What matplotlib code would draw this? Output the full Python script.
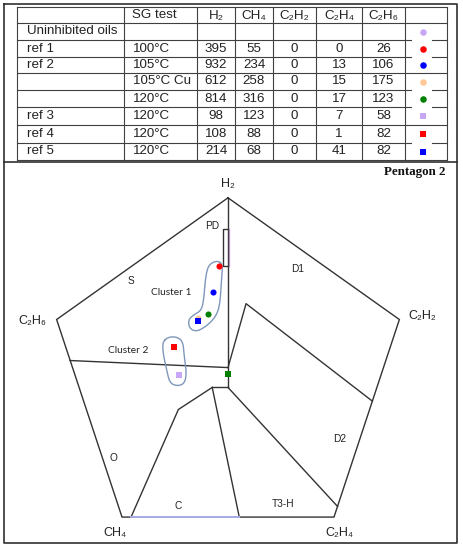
import matplotlib
matplotlib.use('Agg')
import matplotlib.pyplot as plt
import numpy as np

plt.rcParams['font.family'] = ['Liberation Sans', 'DejaVu Sans']

# ---- table data ----
row_names = ['Uninhibited oils', 'ref 1', 'ref 2', '', '', 'ref 3', 'ref 4', 'ref 5']
sg_test = ['', '100°C', '105°C', '105°C Cu', '120°C', '120°C', '120°C', '120°C']
gas_heads = ['H₂', 'CH₄', 'C₂H₂', 'C₂H₄', 'C₂H₆']
h2 = [395, 932, 612, 814, 98, 108, 214]
ch4 = [55, 234, 258, 316, 123, 88, 68]
c2h2 = [0, 0, 0, 0, 0, 0, 0]
c2h4 = [0, 13, 15, 17, 7, 1, 41]
c2h6 = [26, 106, 175, 123, 58, 82, 82]

# extra point sitting at the pentagon centre (green square)
extra_x = [0.0]
extra_y = [0.0]

# marker style for each table row
row_colors = ['#c8a6f8', '#ff0000', '#0000ff', '#ffc896', '#008000', '#c8a6f8', '#ff0000', '#0000ff']
row_marks = ['o', 'o', 'o', 'o', 'o', 's', 's', 's']

# ---- pentagon 2 geometry (Duval units) ----
pent_x = [0, -38, -23.5, 23.5, 38, 0]
pent_y = [40, 12.4, -32.4, -32.4, 12.4, 40]
zone_lines = [
    [(0, 40), (0, -3)],
    [(-35, 3.1), (0, 1.5)],
    [(0, 1.5), (4, 16), (32, -6.1)],
    [(0, -3), (24.3, -30)],
    [(0, -3), (-3.5, -3)],
    [(-3.5, -3), (2.5, -32.4)],
    [(-3.5, -3), (-11, -8), (-21.5, -32.4)],
    [(0, 24.5), (-1, 24.5), (-1, 33), (0, 33)],
]
vert_labels = ['H₂', 'C₂H₆', 'C₂H₂', 'CH₄', 'C₂H₄']
vert_lx = [0, -43.5, 43, -25, 24.6]
vert_ly = [43.1, 12.1, 13.2, -36.0, -36.0]
zone_names = ['S', 'D1', 'PD', 'O', 'C', 'T3-H', 'D2']
zone_lx = [-21.5, 15.5, -3.5, -25.3, -11.1, 12.2, 24.8]
zone_ly = [21.1, 23.9, 33.6, -19.0, -29.9, -29.4, -14.7]

cluster1 = [(-2.15, 25.7), (-1.18, 24.8), (-1.44, 21.4), (-1.77, 16.1), (-2.5, 13.4),
            (-4.37, 11.2), (-6.94, 9.6), (-8.58, 10.4), (-8.8, 12.3), (-7.69, 13.4),
            (-5.83, 14.5), (-5.32, 17.5), (-5.1, 20.7), (-4.59, 24.1), (-3.61, 25.3)]
cluster2 = [(-14.5, 7.3), (-13.3, 8.4), (-11.5, 8.5), (-10.0, 7.5), (-9.7, 4.0),
            (-9.2, 0.3), (-9.6, -2.0), (-11.0, -2.7), (-12.9, -2.1), (-13.6, 1.0),
            (-14.4, 4.7)]


def duval_xy(h, e6, m, e4, a2):
    # centroid of the polygon built from the relative gas percentages
    ang = np.radians([90, 162, 234, 306, 18])
    v = np.array([h, e6, m, e4, a2], float)
    p = 100 * v / v.sum()
    x = p * np.cos(ang)
    y = p * np.sin(ang)
    x1, y1 = np.roll(x, -1), np.roll(y, -1)
    cr = x * y1 - x1 * y
    a = cr.sum() / 2
    return ((x + x1) * cr).sum() / (6 * a), ((y + y1) * cr).sum() / (6 * a)


def smooth(pts, n=3):
    p = np.array(pts, float)
    for _ in range(n):
        q = np.roll(p, -1, axis=0)
        new = np.empty((2 * len(p), 2))
        new[0::2] = 0.75 * p + 0.25 * q
        new[1::2] = 0.25 * p + 0.75 * q
        p = new
    return np.vstack([p, p[:1]])


fig = plt.figure(figsize=(4.63, 5.50), dpi=100)

# ---- table (pixel coords) ----
ax = fig.add_axes([0, 0, 1, 1])
ax.set_xlim(0, 463)
ax.set_ylim(550, 0)
ax.axis('off')

frame_c = '#303030'
grid_c = '#404040'
ax.plot([4, 457, 457, 4, 4], [4, 4, 543, 543, 4], color=frame_c, lw=1.2)
ax.plot([4, 457], [162, 162], color=frame_c, lw=1.2)

col_x = [17, 124, 197, 235, 273, 316, 362, 405, 447]
row_y = [7, 23, 40, 57, 73, 90, 107, 125, 143, 160]
for x in col_x:
    ax.plot([x, x], [row_y[0], row_y[-1]], color=grid_c, lw=0.8)
full_rows = [7, 23, 73, 125, 160]
for y in row_y:
    if y in full_rows:
        ax.plot([col_x[0], col_x[-1]], [y, y], color=grid_c, lw=0.8)
    else:
        ax.plot([col_x[0], 411], [y, y], color=grid_c, lw=0.8)
        ax.plot([432, col_x[-1]], [y, y], color=grid_c, lw=0.8)

txt_c = '#222222'
fs = 9.6
hy = (row_y[0] + row_y[1]) / 2
ax.text(132, hy, 'SG test', fontsize=fs, color=txt_c, ha='left', va='center')
for i, g in enumerate(gas_heads):
    ax.text((col_x[i + 2] + col_x[i + 3]) / 2, hy + 0.5, g, fontsize=fs, color=txt_c,
            ha='center', va='center')

values = [h2, ch4, c2h2, c2h4, c2h6]
for r in range(len(row_names)):
    cy = (row_y[r + 1] + row_y[r + 2]) / 2
    ax.text(27, cy, row_names[r], fontsize=fs, color=txt_c, ha='left', va='center')
    ax.text(133, cy, sg_test[r], fontsize=fs, color=txt_c, ha='left', va='center')
    if r > 0:
        for i, vals in enumerate(values):
            ax.text((col_x[i + 2] + col_x[i + 3]) / 2, cy, str(vals[r - 1]), fontsize=fs,
                    color=txt_c, ha='center', va='center')
    ms = 4.7 if row_marks[r] == 'o' else 5.0
    ax.plot(423, cy, marker=row_marks[r], color=row_colors[r], ms=ms, mew=0, ls='none')

ax.text(445, 172, 'Pentagon 2', fontsize=9.3, fontweight='bold', family='Liberation Serif',
        color='#111111', ha='right', va='center')

# ---- pentagon (Duval units) ----
ox, oy, sx, sy = 228, 374.2, 4.51, 4.41
ax2 = fig.add_axes([0, 0, 1, 1], facecolor='none')
ax2.set_xlim(-ox / sx, (463 - ox) / sx)
ax2.set_ylim((oy - 550) / sy, oy / sy)
ax2.axis('off')

line_c = '#333333'
ax2.plot(pent_x, pent_y, color=line_c, lw=1.0, solid_joinstyle='miter')
for seg in zone_lines:
    xs, ys = zip(*seg)
    ax2.plot(xs, ys, color=line_c, lw=1.0)
ax2.plot([-21.5, 2.5], [-32.4, -32.4], color='#a9aee6', lw=1.4)
ax2.plot([0.3, 0.3], [24.5, 33], color='#b090c0', lw=0.9)

for lab, x, y in zip(vert_labels, vert_lx, vert_ly):
    ax2.text(x, y, lab, fontsize=9, color=txt_c, ha='center', va='center')
for lab, x, y in zip(zone_names, zone_lx, zone_ly):
    ax2.text(x, y, lab, fontsize=7.3, color=txt_c, ha='center', va='center')
ax2.text(-12.6, 18.6, 'Cluster 1', fontsize=7.3, family='Lato', color=txt_c, ha='center', va='center')
ax2.text(-22.2, 5.3, 'Cluster 2', fontsize=7.3, family='Lato', color=txt_c, ha='center', va='center')

for cl in [cluster1, cluster2]:
    s = smooth(cl)
    ax2.plot(s[:, 0], s[:, 1], color='#7f97bb', lw=1.0)

# points from the table values, circles first so squares sit on top
order = [0, 1, 2, 3, 4, 5, 6]
for k in sorted(order, key=lambda k: row_marks[k + 1] == 's'):
    px, py = duval_xy(h2[k], c2h6[k], ch4[k], c2h4[k], c2h2[k])
    m = row_marks[k + 1]
    ax2.plot(px, py, marker=m, color=row_colors[k + 1], ms=4.4 if m == 'o' else 4.7,
             mew=0, ls='none', zorder=5)
ax2.plot(extra_x, extra_y, marker='s', color='#008000', ms=4.7, mew=0, ls='none', zorder=5)

fig.savefig('out.png', dpi=100)
